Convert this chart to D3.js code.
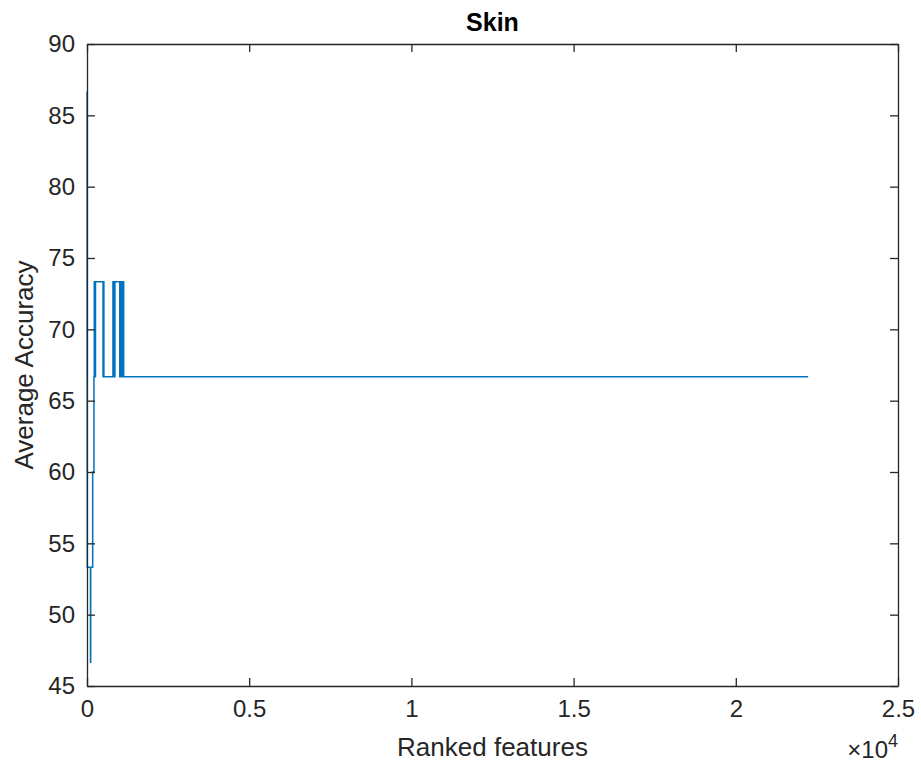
<!DOCTYPE html>
<html>
<head>
<meta charset="utf-8">
<script src="https://cdn.jsdelivr.net/npm/d3@7"></script>
<style>
  html, body { margin: 0; padding: 0; background: #ffffff; }
  svg { display: block; font-family: "Liberation Sans", Arial, Helvetica, sans-serif; }
</style>
</head>
<body>
<svg id="chart" width="921" height="769"></svg>
<script>
// Change points of the step series (ranked feature index, average accuracy %)
const featureIdx = [1, 2, 3, 4, 6, 8, 108, 114, 175, 215, 225, 245, 262, 495, 505, 520, 800, 830, 860, 1010, 1040, 1080, 1100, 1130, 22230];
const accuracy   = [86.67, 80, 73.33, 66.67, 60, 53.33, 46.67, 53.33, 60, 66.67, 73.33, 66.67, 73.33, 66.67, 73.33, 66.67, 73.33, 66.67, 73.33, 66.67, 73.33, 66.67, 73.33, 66.67, 66.67];
const xTicks = [0, 5000, 10000, 15000, 20000, 25000];
const xTickLabels = ["0", "0.5", "1", "1.5", "2", "2.5"];
const yTicks = [45, 50, 55, 60, 65, 70, 75, 80, 85, 90];
const titleText = "Skin";
const xLabelText = "Ranked features";
const yLabelText = "Average Accuracy";

const data = featureIdx.map((f, i) => ({ x: f, y: accuracy[i] }));

const svg = d3.select("#chart");
const L = 87, R = 898, T = 44, B = 686;
const axisColor = "#262626";
const x = d3.scaleLinear().domain([0, 25000]).range([L, R]);
const y = d3.scaleLinear().domain([45, 90]).range([B, T]);

// line
svg.append("path")
  .datum(data)
  .attr("fill", "none")
  .attr("stroke", "#0072BD")
  .attr("stroke-width", 1.5)
  .attr("d", d3.line().x(d => x(d.x)).y(d => y(d.y)).curve(d3.curveStepAfter));

const tickLen = 8;
const fmtX = (d, i) => xTickLabels[i];

// bottom axis
const gB = svg.append("g").attr("transform", `translate(0,${B})`)
  .call(d3.axisBottom(x).tickValues(xTicks).tickFormat(fmtX).tickSizeInner(-tickLen).tickSizeOuter(0).tickPadding(14));
// top axis
const gT = svg.append("g").attr("transform", `translate(0,${T})`)
  .call(d3.axisTop(x).tickValues(xTicks).tickFormat("").tickSizeInner(-tickLen).tickSizeOuter(0));
// left axis
const gL = svg.append("g").attr("transform", `translate(${L},0)`)
  .call(d3.axisLeft(y).tickValues(yTicks).tickFormat(d3.format("d")).tickSizeInner(-tickLen).tickSizeOuter(0).tickPadding(12));
// right axis
const gR = svg.append("g").attr("transform", `translate(${R},0)`)
  .call(d3.axisRight(y).tickValues(yTicks).tickFormat("").tickSizeInner(-tickLen).tickSizeOuter(0));

[gB, gT, gL, gR].forEach(g => {
  g.selectAll(".domain").attr("stroke", axisColor).attr("stroke-width", 1.3);
  g.selectAll(".tick line").attr("stroke", axisColor).attr("stroke-width", 1.3);
  g.selectAll(".tick text").attr("fill", axisColor)
    .style("font-size", "24px").style("font-family", '"Liberation Sans", Arial, sans-serif');
});
gB.selectAll(".tick text").attr("dy", "0.71em");

// exponent label
const ex = svg.append("text").attr("x", R).attr("y", 758).attr("text-anchor", "end")
  .attr("fill", axisColor).style("font-size", "24px");
ex.append("tspan").text("\u00d710");
ex.append("tspan").attr("dy", -11).style("font-size", "18px").text("4");

// axis labels
svg.append("text").attr("x", (L + R) / 2).attr("y", 756).attr("text-anchor", "middle")
  .attr("fill", axisColor).style("font-size", "26px").text(xLabelText);
svg.append("text").attr("transform", `translate(33,${(T + B) / 2}) rotate(-90)`)
  .attr("text-anchor", "middle").attr("fill", axisColor).style("font-size", "26px").text(yLabelText);

// title
svg.append("text").attr("x", (L + R) / 2).attr("y", 31).attr("text-anchor", "middle")
  .attr("fill", "#000").style("font-size", "25px").style("font-weight", "bold").text(titleText);
</script>
</body>
</html>
